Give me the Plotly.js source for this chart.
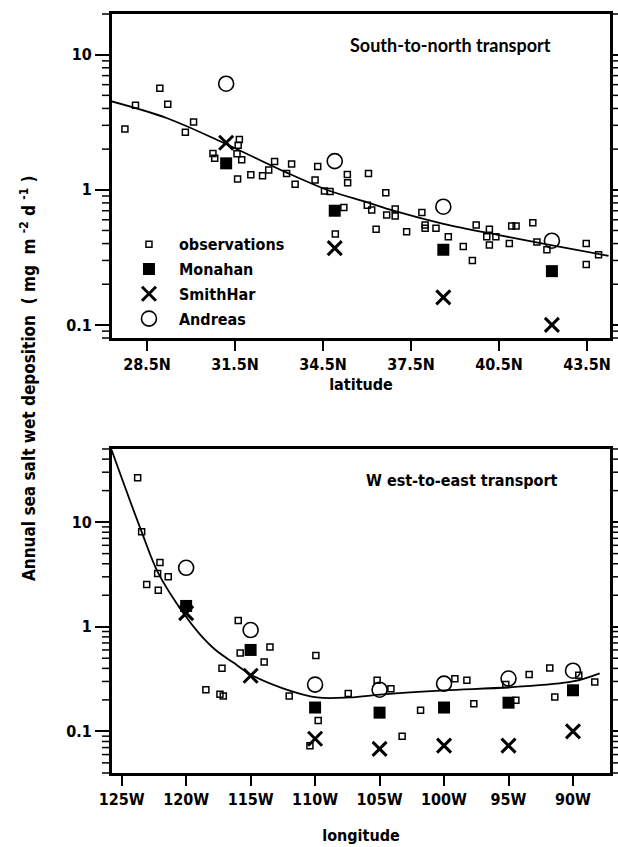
<!DOCTYPE html>
<html>
<head>
<meta charset="utf-8">
<script src="https://cdn.plot.ly/plotly-3.0.1.min.js"></script>
<style>html,body{margin:0;padding:0;background:#fff;}</style>
</head>
<body>
<div id="chart" style="width:618px;height:847px;"></div>
<script>
// ---------- South-to-north transport (top panel) ----------
const latObs = [27.75, 28.11, 28.94, 29.21, 29.81, 30.09, 30.75, 30.81, 31.65, 31.61, 31.57, 31.73, 31.59, 32.04, 32.44, 32.65, 32.85, 33.26, 33.43, 33.55, 34.23, 34.32, 34.55, 34.74, 35.33, 35.34, 36.05, 36.64, 35.21, 34.92, 36.01, 36.16, 36.31, 36.67, 36.96, 36.96, 37.35, 37.87, 37.98, 37.98, 38.35, 38.77, 39.28, 39.59, 39.72, 40.08, 40.17, 40.17, 40.39, 40.85, 40.93, 41.08, 41.65, 41.79, 42.13, 43.47, 43.47, 43.89];
const obsNS = [2.82, 4.22, 5.65, 4.29, 2.67, 3.18, 1.86, 1.71, 2.36, 2.14, 1.85, 1.67, 1.20, 1.29, 1.27, 1.40, 1.62, 1.32, 1.55, 1.10, 1.18, 1.49, 0.98, 0.97, 1.30, 1.13, 1.32, 0.95, 0.74, 0.47, 0.77, 0.71, 0.51, 0.65, 0.72, 0.64, 0.49, 0.68, 0.55, 0.52, 0.52, 0.45, 0.38, 0.30, 0.55, 0.45, 0.51, 0.39, 0.45, 0.40, 0.54, 0.54, 0.57, 0.41, 0.36, 0.40, 0.28, 0.33];
const latModels = [31.2, 34.9, 38.6, 42.3];
const monahanNS = [1.57, 0.70, 0.36, 0.25];
const smithHarNS = [2.23, 0.37, 0.16, 0.10];
const andreasNS = [6.1, 1.63, 0.75, 0.42];
const latFit = [27.30, 29.17, 31.10, 33.26, 34.74, 35.99, 36.90, 38.60, 40.54, 42.13, 44.23];
const fitNS = [4.51, 3.40, 2.23, 1.34, 0.98, 0.81, 0.70, 0.56, 0.46, 0.395, 0.325];
const latTicks = [28.5, 31.5, 34.5, 37.5, 40.5, 43.5];
const latTickText = ['28.5N', '31.5N', '34.5N', '37.5N', '40.5N', '43.5N'];

// ---------- West-to-east transport (bottom panel) ----------
const lonObs = [-123.76, -123.45, -122.03, -122.21, -121.39, -123.06, -122.16, -115.96, -115.81, -113.50, -113.95, -117.22, -118.47, -117.38, -117.12, -112.01, -109.94, -109.76, -110.40, -107.43, -105.19, -104.12, -103.25, -101.82, -99.16, -98.23, -97.69, -95.21, -94.43, -93.40, -91.80, -91.41, -89.55, -88.31];
const obsWE = [26.5, 8.07, 4.11, 3.23, 3.00, 2.53, 2.23, 1.15, 0.56, 0.64, 0.46, 0.40, 0.25, 0.226, 0.218, 0.218, 0.53, 0.127, 0.073, 0.23, 0.308, 0.256, 0.090, 0.159, 0.319, 0.308, 0.184, 0.28, 0.198, 0.349, 0.404, 0.213, 0.344, 0.296];
const lonModels = [-120, -115, -110, -105, -100, -95, -90];
const monahanWE = [1.58, 0.60, 0.169, 0.151, 0.169, 0.188, 0.247];
const smithHarWE = [1.35, 0.34, 0.085, 0.068, 0.073, 0.073, 0.10];
const andreasWE = [3.66, 0.93, 0.28, 0.25, 0.286, 0.32, 0.38];
const lonFit = [-125.78, -123.45, -122.16, -120.22, -118.93, -117.69, -116.37, -114.90, -112.50, -109.86, -107.30, -104.74, -99.94, -94.90, -90.02, -87.93];
const fitWE = [48.9, 8.07, 3.25, 1.35, 0.847, 0.596, 0.457, 0.344, 0.258, 0.211, 0.211, 0.226, 0.247, 0.264, 0.30, 0.359];
const lonTicks = [-125, -120, -115, -110, -105, -100, -95, -90];
const lonTickText = ['125W', '120W', '115W', '110W', '105W', '100W', '95W', '90W'];

const yTicks = [0.1, 1, 10];
const yTickText = ['0.1', '1', '10'];

// minor log tick positions: 2..9 within each decade
const minorVals = [];
[0.01, 0.1, 1, 10].forEach(d => { for (let m = 2; m <= 9; m++) minorVals.push(+(d * m).toPrecision(3)); });

const FONT = 'DejaVu Sans Condensed, DejaVu Sans, Liberation Sans Narrow, sans-serif';
const obsMarker = {symbol: 'square-open', size: 6, color: 'black', line: {width: 1.5, color: 'black'}};
const monMarker = {symbol: 'square', size: 12, color: 'black'};
const smiMarker = {symbol: 'x-thin-open', size: 14, color: 'black', line: {width: 3, color: 'black'}};
const andMarker = {symbol: 'circle-open', size: 15, color: 'black', line: {width: 1.6, color: 'black'}};

const traces = [
  {x: latFit, y: fitNS, mode: 'lines', line: {color: 'black', width: 1.8, shape: 'spline', smoothing: 1}, showlegend: false, hoverinfo: 'skip', xaxis: 'x', yaxis: 'y'},
  {x: latObs, y: obsNS, mode: 'markers', name: 'observations', legendgroup: 'a', marker: obsMarker, xaxis: 'x', yaxis: 'y'},
  {x: latModels, y: monahanNS, mode: 'markers', name: 'Monahan', legendgroup: 'b', marker: monMarker, xaxis: 'x', yaxis: 'y'},
  {x: latModels, y: smithHarNS, mode: 'markers', name: 'SmithHar', legendgroup: 'c', marker: smiMarker, xaxis: 'x', yaxis: 'y'},
  {x: latModels, y: andreasNS, mode: 'markers', name: 'Andreas', legendgroup: 'd', marker: andMarker, xaxis: 'x', yaxis: 'y'},

  {x: lonFit, y: fitWE, mode: 'lines', line: {color: 'black', width: 1.8, shape: 'spline', smoothing: 1}, showlegend: false, hoverinfo: 'skip', xaxis: 'x2', yaxis: 'y2'},
  {x: lonObs, y: obsWE, mode: 'markers', name: 'observations', showlegend: false, marker: obsMarker, xaxis: 'x2', yaxis: 'y2'},
  {x: lonModels, y: monahanWE, mode: 'markers', name: 'Monahan', showlegend: false, marker: monMarker, xaxis: 'x2', yaxis: 'y2'},
  {x: lonModels, y: smithHarWE, mode: 'markers', name: 'SmithHar', showlegend: false, marker: smiMarker, xaxis: 'x2', yaxis: 'y2'},
  {x: lonModels, y: andreasWE, mode: 'markers', name: 'Andreas', showlegend: false, marker: andMarker, xaxis: 'x2', yaxis: 'y2'}
];

const tickFont = {family: FONT, size: 16, color: 'black', weight: 'bold'};
function xAxis(anchor, range, vals, text, title, standoff) {
  return {
    anchor: anchor, domain: [0, 1], range: range,
    tickmode: 'array', tickvals: vals, ticktext: text,
    ticks: 'outside', ticklen: 10, tickwidth: 2, tickcolor: 'black',
    showline: true, linewidth: 3, linecolor: 'black', mirror: true,
    showgrid: false, zeroline: false, tickfont: tickFont,
    title: {text: title, font: {family: FONT, size: 16, color: 'black', weight: 'bold'}, standoff: standoff}
  };
}
function yAxis(anchor, domain, range) {
  return {
    anchor: anchor, domain: domain, type: 'log', range: range,
    tickmode: 'array', tickvals: yTicks, ticktext: yTickText,
    ticks: 'outside', ticklen: 14, tickwidth: 2, tickcolor: 'black',
    showline: true, linewidth: 3, linecolor: 'black', mirror: 'ticks',
    showgrid: false, zeroline: false, tickfont: tickFont
  };
}

const rangeNS = [Math.log10(0.08), Math.log10(20)];
const rangeWE = [Math.log10(0.04), Math.log10(50)];
const domNS = [0.5731, 1];
const domWE = [0, 0.4269];

// minor log ticks drawn as short pixel-sized lines on both sides of each panel,
// positioned through the panel's own log range
function minorTickShapes(xr, yr, range) {
  const out = [];
  minorVals.forEach(v => {
    const f = (Math.log10(v) - range[0]) / (range[1] - range[0]);
    if (f < 0 || f > 1) return;
    [[0, -3, -10], [1, 3, 10]].forEach(([anchor, a, b]) => {
      out.push({type: 'line', xref: xr, yref: yr, xsizemode: 'pixel', xanchor: anchor,
                x0: a, x1: b, y0: f, y1: f, layer: 'above', line: {color: 'black', width: 1.5}});
    });
  });
  return out;
}

const layout = {
  width: 618, height: 847,
  margin: {l: 112, r: 8, t: 14, b: 74, pad: 0},
  paper_bgcolor: 'white', plot_bgcolor: 'white',
  showlegend: true,
  xaxis: xAxis('y', [27.31, 44.28], latTicks, latTickText, 'latitude', 6),
  yaxis: yAxis('x', domNS, rangeNS),
  xaxis2: xAxis('y2', [-125.75, -87.13], lonTicks, lonTickText, 'longitude', 22),
  yaxis2: yAxis('x2', domWE, rangeWE),
  shapes: minorTickShapes('x domain', 'y domain', rangeNS).concat(minorTickShapes('x2 domain', 'y2 domain', rangeWE)),
  legend: {
    x: 0.014, xanchor: 'left', y: 0.719, yanchor: 'top',
    bgcolor: 'rgba(0,0,0,0)', borderwidth: 0,
    font: {family: FONT, size: 16, color: 'black', weight: 'bold'},
    itemwidth: 50, tracegroupgap: 1, itemclick: false
  },
  annotations: [
    {xref: 'x domain', yref: 'y domain', x: 0.679, y: 0.904, text: 'South-to-north transport', showarrow: false,
     font: {family: 'Lato, Open Sans, sans-serif', size: 18, color: 'black', weight: 'bold'}, xanchor: 'center', yanchor: 'middle'},
    {xref: 'x2 domain', yref: 'y2 domain', x: 0.703, y: 0.904, text: 'W est-to-east transport', showarrow: false,
     font: {family: FONT, size: 16, color: 'black', weight: 'bold'}, xanchor: 'center', yanchor: 'middle'},
    {xref: 'paper', yref: 'paper', x: -84 / 498, y: (773 - 379) / 759, textangle: -90,
     text: 'Annual sea salt wet deposition  ( mg  m <sup>-2</sup> d <sup>-1</sup> )', showarrow: false,
     font: {family: FONT, size: 17, color: 'black', weight: 'bold'}, xanchor: 'center', yanchor: 'middle'}
  ]
};

Plotly.newPlot('chart', traces, layout, {staticPlot: true, displayModeBar: false});
</script>
</body>
</html>
